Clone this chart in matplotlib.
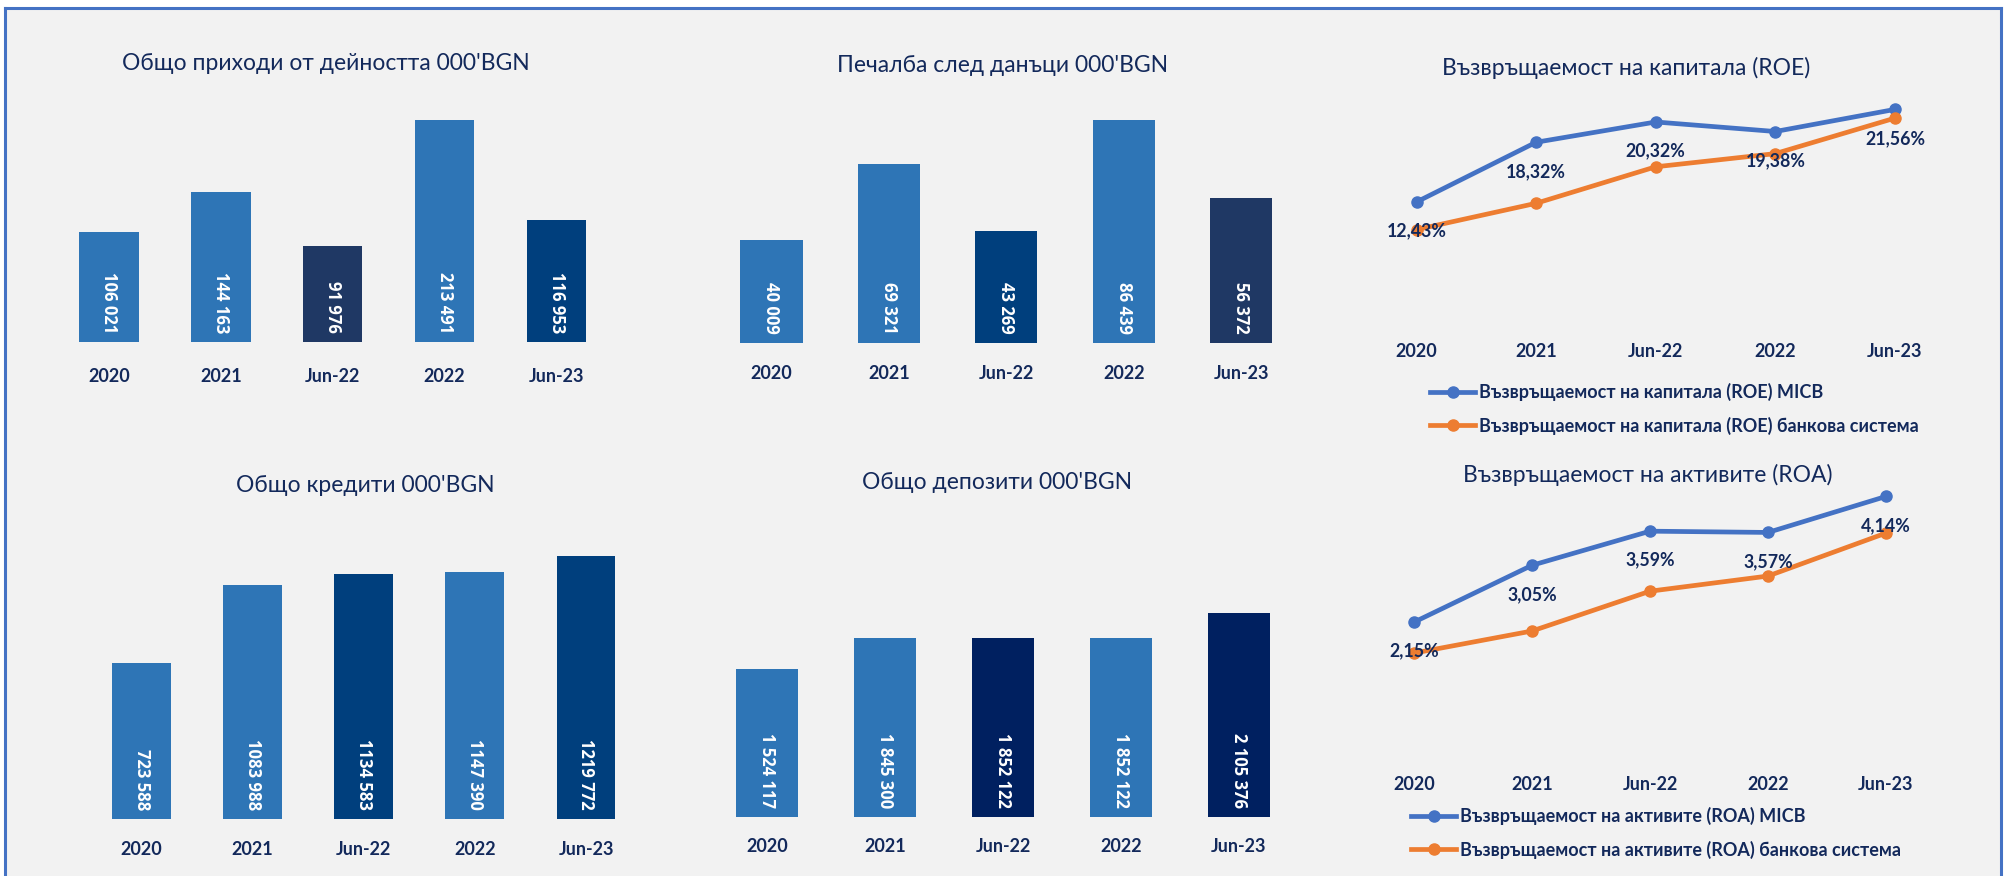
import matplotlib
matplotlib.use("Agg")
import matplotlib.pyplot as plt
from matplotlib.patches import Rectangle
from matplotlib.lines import Line2D

# данни
periods = ["2020", "2021", "Jun-22", "2022", "Jun-23"]

revenue = [106021, 144163, 91976, 213491, 116953]
profit = [40009, 69321, 43269, 86439, 56372]
loans = [723588, 1083988, 1134583, 1147390, 1219772]
deposits = [1524117, 1845300, 1852122, 1852122, 2105376]

roe_micb = [12.43, 18.32, 20.32, 19.38, 21.56]
roe_system = [9.7, 12.3, 15.9, 17.2, 20.7]
roa_micb = [2.15, 3.05, 3.59, 3.57, 4.14]
roa_system = [1.66, 2.01, 2.64, 2.88, 3.56]

LIGHT = "#2E75B6"
revenue_colors = [LIGHT, LIGHT, "#1F3864", LIGHT, "#003F7D"]
profit_colors = [LIGHT, LIGHT, "#003F7D", LIGHT, "#1F3864"]
loans_colors = [LIGHT, LIGHT, "#003F7D", LIGHT, "#003F7D"]
deposits_colors = [LIGHT, LIGHT, "#002060", LIGHT, "#002060"]

TXT = "#13295B"
BG = "#F2F2F2"
W, H = 2011, 876

plt.rcParams['font.family'] = ['Lato', 'DejaVu Sans']

fig = plt.figure(figsize=(W / 100, H / 100), dpi=100)
fig.patch.set_facecolor("white")


def px_axes(left, top, width, height):
    return fig.add_axes([left / W, 1 - (top + height) / H, width / W, height / H])


def fmt(v, group_millions=True):
    s = f"{v:,}".replace(",", " ")
    if not group_millions and v >= 1000000:
        s = s.replace(" ", "", 1)
    return s


# фон и рамка
fig.patches.append(Rectangle((6 / W, 0), (2000 - 6) / W, 1 - 9 / H,
                             transform=fig.transFigure, facecolor=BG,
                             edgecolor="none", zorder=-10))
for xs, ys in [([5, 2001], [8, 8]), ([5, 5], [8, 876]), ([2001, 2001], [8, 876])]:
    fig.lines.append(Line2D([x / W for x in xs], [1 - y / H for y in ys],
                            transform=fig.transFigure, color="#4472C4", lw=2.2))


def bar_panel(left, top, width, height, values, colors, ymax, title, tx, ty,
              label_y, group_millions=True):
    ax = px_axes(left, top, width, height)
    ax.set_facecolor("none")
    x = range(len(values))
    ax.bar(x, values, width=0.53, color=colors)
    ax.set_xlim(-0.5, len(values) - 0.5)
    ax.set_ylim(0, ymax)
    for s in ax.spines.values():
        s.set_visible(False)
    ax.set_yticks([])
    ax.set_xticks(list(x))
    ax.set_xticklabels(periods, fontsize=13, fontweight="bold", color=TXT)
    ax.tick_params(axis="x", length=0, pad=label_y - (top + height) - 15)
    for i, v in enumerate(values):
        ax.annotate(fmt(v, group_millions), (i, 0), xytext=(0, 9),
                    textcoords="offset pixels", rotation=270, ha="center",
                    va="bottom", color="white", fontsize=12, fontweight="bold",
                    family="Open Sans")
    fig.text(tx / W, 1 - ty / H, title, ha="center", va="center",
             fontsize=16.5, color=TXT)
    return ax


bar_panel(53, 100, 559.5, 242, revenue, revenue_colors, 232700,
          "Общо приходи от дейността 000'BGN", 326, 63, 376)
bar_panel(712.8, 100, 587, 243, profit, profit_colors, 94190,
          "Печалба след данъци 000'BGN", 1003, 65, 374)
bar_panel(86, 540, 555.6, 279, loans, loans_colors, 1294000,
          "Общо кредити 000'BGN", 365, 486, 850, group_millions=False)
bar_panel(708, 540, 590, 277, deposits, deposits_colors, 2858700,
          "Общо депозити 000'BGN", 997.5, 482, 847)


def line_panel(left, top, width, height, micb, system, ymax, title, tx, ty,
               label_y, leg_labels, leg_x, leg_y):
    ax = px_axes(left, top, width, height)
    ax.set_facecolor("none")
    x = range(len(micb))
    ax.plot(x, micb, color="#4472C4", lw=3.4, marker="o", ms=8,
            label=leg_labels[0], zorder=3)
    ax.plot(x, system, color="#ED7D31", lw=3.4, marker="o", ms=8,
            label=leg_labels[1], zorder=3)
    for i, v in enumerate(micb):
        ax.annotate(f"{v:.2f}%".replace(".", ","), (i, v), xytext=(0, -29),
                    textcoords="offset pixels", ha="center", va="center",
                    fontsize=12.8, fontweight="bold", color=TXT, zorder=4)
    ax.set_xlim(-0.5, len(micb) - 0.5)
    ax.set_ylim(0, ymax)
    for s in ax.spines.values():
        s.set_visible(False)
    ax.set_yticks([])
    ax.set_xticks(list(x))
    ax.set_xticklabels(periods, fontsize=13, fontweight="bold", color=TXT)
    ax.tick_params(axis="x", length=0, pad=label_y - (top + height) - 15)
    fig.text(tx / W, 1 - ty / H, title, ha="center", va="center",
             fontsize=16.5, color=TXT)
    leg = ax.legend(loc="upper left", bbox_to_anchor=(leg_x / W, 1 - leg_y / H),
                    bbox_transform=fig.transFigure, frameon=False,
                    handlelength=2.5, handletextpad=0.2,
                    labelspacing=0.85, borderpad=0, borderaxespad=0,
                    prop={"weight": "bold", "size": 13})
    for t in leg.get_texts():
        t.set_color(TXT)
    return ax


line_panel(1356.7, 80, 598, 248, roe_micb, roe_system, 24.46,
           "Възвръщаемост на капитала (ROE)", 1626, 68, 354,
           ["Възвръщаемост на капитала (ROE) MICB",
            "Възвръщаемост на капитала (ROE) банкова система"], 1430, 383)
line_panel(1355, 480, 590, 278, roa_micb, roa_system, 4.40,
           "Възвръщаемост на активите (ROA)", 1648, 475, 786,
           ["Възвръщаемост на активите (ROA) MICB",
            "Възвръщаемост на активите (ROA) банкова система"], 1411, 807)

plt.savefig("out.png", dpi=100, facecolor=fig.get_facecolor())
